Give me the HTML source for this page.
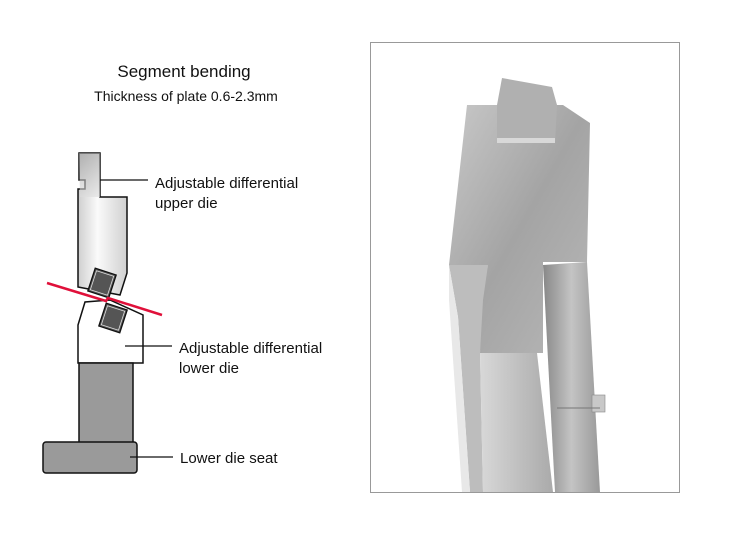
<!DOCTYPE html>
<html><head><meta charset="utf-8"><style>
html,body{margin:0;padding:0;background:#fff;}
svg{display:block;}
text{font-family:"Liberation Sans",Arial,sans-serif;fill:#111;}
</style></head><body>
<svg width="750" height="536" viewBox="0 0 750 536" xmlns="http://www.w3.org/2000/svg">
<defs>
<linearGradient id="ug" x1="0" y1="0" x2="1" y2="0">
<stop offset="0" stop-color="#cfcfcf"/><stop offset="0.4" stop-color="#fafafa"/><stop offset="1" stop-color="#d0d0d0"/>
</linearGradient>
<linearGradient id="ugt" x1="0" y1="0" x2="0" y2="1">
<stop offset="0" stop-color="#999"/><stop offset="1" stop-color="#ddd"/>
</linearGradient>
<linearGradient id="top" x1="0" y1="0" x2="1" y2="1">
<stop offset="0" stop-color="#c8c8c8"/><stop offset="0.5" stop-color="#a4a4a4"/><stop offset="1" stop-color="#b8b8b8"/>
</linearGradient>
<linearGradient id="fr" x1="0" y1="0" x2="1" y2="0">
<stop offset="0" stop-color="#d8d8d8"/><stop offset="1" stop-color="#aaa"/>
</linearGradient>
<linearGradient id="rb" x1="0" y1="0" x2="1" y2="0">
<stop offset="0" stop-color="#888"/><stop offset="0.5" stop-color="#c4c4c4"/><stop offset="1" stop-color="#999"/>
</linearGradient>
</defs>

<text x="184" y="77" font-size="17" text-anchor="middle">Segment bending</text>
<text x="186" y="101" font-size="14" text-anchor="middle">Thickness of plate 0.6-2.3mm</text>

<polygon points="79,153 100,153 100,197 127,197 127,273 120,295 78,287 78,189 85,189 85,180 79,180" fill="url(#ug)" stroke="#111" stroke-width="1.5"/>
<polygon points="79,153 100,153 100,197 80,197" fill="url(#ugt)" opacity="0.6"/>
<g transform="translate(102,283) rotate(18)">
<rect x="-11" y="-12" width="22" height="24" fill="#555" stroke="#111" stroke-width="1.3"/>
<rect x="-9" y="-10" width="18" height="20" fill="none" stroke="#ddd" stroke-width="0.8"/>
</g>
<polygon points="78,325 85,302 110,300 143,315 143,363 78,363" fill="#fff" stroke="#111" stroke-width="1.5"/>
<g transform="translate(113,318) rotate(18)">
<rect x="-11" y="-12" width="22" height="24" fill="#555" stroke="#111" stroke-width="1.3"/>
<rect x="-9" y="-10" width="18" height="20" fill="none" stroke="#ddd" stroke-width="0.8"/>
</g>
<polyline points="47,283 106,301 108,298 162,315" fill="none" stroke="#e0103a" stroke-width="2.5"/>
<rect x="79" y="363" width="54" height="80" fill="#9a9a9a" stroke="#111" stroke-width="1.5"/>
<rect x="43" y="442" width="94" height="31" rx="3" fill="#9a9a9a" stroke="#111" stroke-width="1.5"/>

<line x1="100" y1="180" x2="148" y2="180" stroke="#111" stroke-width="1.2"/>
<line x1="125" y1="346" x2="172" y2="346" stroke="#111" stroke-width="1.2"/>
<line x1="130" y1="457" x2="173" y2="457" stroke="#111" stroke-width="1.2"/>
<text x="155" y="188" font-size="15">Adjustable differential</text>
<text x="155" y="208" font-size="15">upper die</text>
<text x="179" y="353" font-size="15">Adjustable differential</text>
<text x="179" y="373" font-size="15">lower die</text>
<text x="180" y="463" font-size="15">Lower die seat</text>

<rect x="370.5" y="42.5" width="309" height="450" fill="#fff" stroke="#999" stroke-width="1"/>
<polygon points="449,265 488,265 485,320 480,353 483,492 470,492 458,317" fill="#bdbdbd"/>
<polygon points="449,265 458,317 470,492 462,492 449,300" fill="#e8e8e8"/>
<polygon points="543,265 587,262 600,492 555,492" fill="url(#rb)"/>
<polygon points="480,353 537,353 553,492 483,492" fill="url(#fr)"/>
<polygon points="449,265 467,105 563,105 590,123 587,262 543,262 543,353 480,353 483,300 488,265" fill="url(#top)"/>
<polygon points="502,78 552,87 557,105 555,143 497,143 497,105" fill="#b0b0b0"/>
<rect x="497" y="138" width="58" height="5" fill="#d8d8d8"/>
<rect x="592" y="395" width="13" height="17" fill="#c8c8c8" stroke="#888" stroke-width="0.6"/>
<line x1="557" y1="408" x2="600" y2="408" stroke="#777" stroke-width="1"/>
</svg>
</body></html>
